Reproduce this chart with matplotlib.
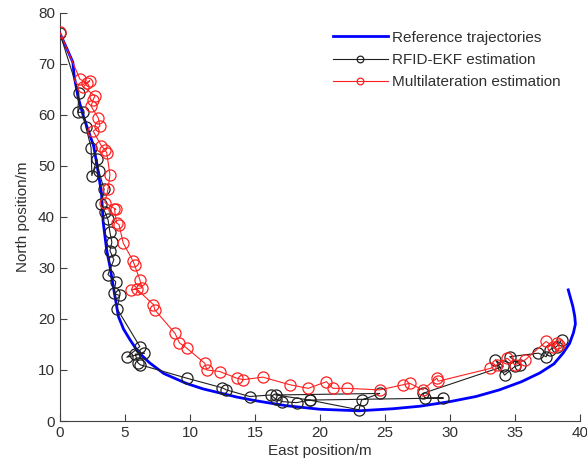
import matplotlib
matplotlib.use("Agg")
import matplotlib.pyplot as plt

plt.rcParams['font.family'] = ['Liberation Sans', 'DejaVu Sans']

# Reference trajectory (east, north) in metres
ref_east = [0.0, 0.5, 1.0, 1.1, 1.4, 1.8, 2.2, 2.6, 2.9, 3.2, 3.33, 3.6, 3.85, 4.2,
            4.5, 4.9, 5.4, 6.0, 6.9, 8.0, 9.7, 11.0, 12.3, 13.6, 15.0, 17.4, 20.0,
            23.0, 25.6, 27.7, 30.0, 32.0, 33.8, 35.5, 36.9, 38.0, 38.7, 39.2, 39.5,
            39.65, 39.6, 39.45, 39.1]
ref_north = [76.0, 73.2, 70.3, 67.6, 63.5, 59.8, 56.8, 53.9, 49.5, 44.7, 39.0, 33.5,
             30.3, 25.0, 20.5, 18.0, 15.9, 13.6, 11.4, 9.3, 7.4, 6.3, 5.5, 4.7, 4.0,
             3.0, 2.3, 2.0, 2.4, 2.9, 3.8, 4.8, 6.1, 7.7, 9.4, 11.2, 13.3, 15.2, 17.3,
             19.0, 20.5, 22.5, 25.7]

# RFID-EKF estimates
ekf_east = [0.0, 1.46, 1.38, 1.78, 2.0, 2.4, 2.46, 2.85, 3.0, 3.4, 3.2, 3.45, 3.7,
            3.85, 4.0, 3.85, 4.15, 3.7, 4.3, 4.15, 4.6, 4.4, 6.15, 5.15, 6.5, 5.8,
            6.0, 6.2, 9.75, 12.5, 12.8, 14.6, 16.2, 16.6, 17.1, 18.2, 19.2, 23.0,
            23.2, 24.6, 16.6, 19.2, 29.5, 28.1, 27.9, 34.1, 33.5, 34.2, 35.0, 35.4,
            34.6, 36.8, 37.4, 37.7, 38.2, 38.6]
ekf_north = [76.0, 64.2, 60.5, 60.5, 57.6, 53.6, 48.1, 51.3, 49.0, 45.4, 42.6, 41.0,
             39.5, 37.0, 35.0, 33.4, 31.6, 28.7, 27.3, 25.0, 24.6, 22.0, 14.6, 12.5,
             13.3, 13.1, 11.4, 11.0, 8.4, 6.5, 6.1, 4.8, 5.1, 4.3, 3.8, 3.6, 4.1, 2.2,
             4.1, 5.4, 5.1, 4.1, 4.5, 4.5, 5.4, 10.7, 12.0, 9.0, 10.7, 11.0, 12.6,
             13.3, 12.6, 14.0, 14.6, 15.9]

# Multilateration estimates
mlt_east = [0.0, 1.54, 2.05, 2.3, 1.8, 2.7, 2.56, 2.4, 2.95, 3.08, 2.56, 3.2, 3.46,
            3.6, 3.85, 3.7, 3.46, 4.3, 4.2, 4.36, 4.55, 4.87, 5.64, 5.75, 6.15, 6.3,
            5.5, 5.9, 7.2, 7.3, 8.85, 9.2, 9.75, 11.15, 11.3, 12.3, 13.6, 14.1, 15.6,
            17.7, 19.1, 20.5, 21.0, 22.1, 24.6, 26.4, 26.9, 27.9, 29.0, 29.1, 33.1,
            33.6, 34.4, 35.0, 35.8, 37.4, 37.9, 38.2, 38.4]
mlt_north = [76.2, 67.0, 66.3, 66.7, 65.5, 63.7, 63.0, 61.7, 59.4, 57.8, 56.8, 53.9,
             53.2, 52.6, 48.3, 45.4, 42.8, 41.5, 41.5, 38.8, 38.5, 34.9, 31.3, 30.5,
             27.7, 26.1, 25.7, 25.9, 22.8, 21.8, 17.2, 15.3, 14.3, 11.3, 10.0, 9.7,
             8.4, 8.1, 8.6, 7.1, 6.4, 7.7, 6.4, 6.4, 6.1, 7.1, 7.4, 6.1, 8.4, 7.8,
             10.3, 11.0, 12.3, 11.0, 12.0, 15.6, 14.6, 15.2, 14.9]

fig = plt.figure(figsize=(5.87, 4.67), dpi=100)
ax = fig.add_axes([0.102, 0.0985, 0.886, 0.874])

ax.plot(ref_east, ref_north, color='#0000ff', lw=2.0, label='Reference trajectories', zorder=3)
ax.plot(ekf_east, ekf_north, color='#202020', lw=0.8, marker='o', ms=8,
        mfc='none', mec='#202020', mew=0.9, label='RFID-EKF estimation', zorder=4)
ax.plot(mlt_east, mlt_north, color='#ff2020', lw=0.8, marker='o', ms=8,
        mfc='none', mec='#ff2020', mew=0.9, label='Multilateration estimation', zorder=5)

ax.set_xlim(0, 40)
ax.set_ylim(0, 80)
ax.set_xticks(range(0, 41, 5))
ax.set_yticks(range(0, 81, 10))
for s in ('top', 'right'):
    ax.spines[s].set_visible(False)
for s in ('left', 'bottom'):
    ax.spines[s].set_color('#404040')
ax.tick_params(direction='in', length=5, colors='#404040', labelsize=11, labelcolor='#303030')
ax.set_xlabel('East position/m', fontsize=11, color='#303030', labelpad=3)
ax.set_ylabel('North position/m', fontsize=11, color='#303030', labelpad=6)

leg = ax.legend(loc='upper right', bbox_to_anchor=(0.99, 0.99), frameon=False,
                fontsize=11, handlelength=3.6, handletextpad=0.3, labelspacing=0.55,
                markerscale=0.6)
for t in leg.get_texts():
    t.set_color('#303030')

fig.savefig('out.png', dpi=100)
